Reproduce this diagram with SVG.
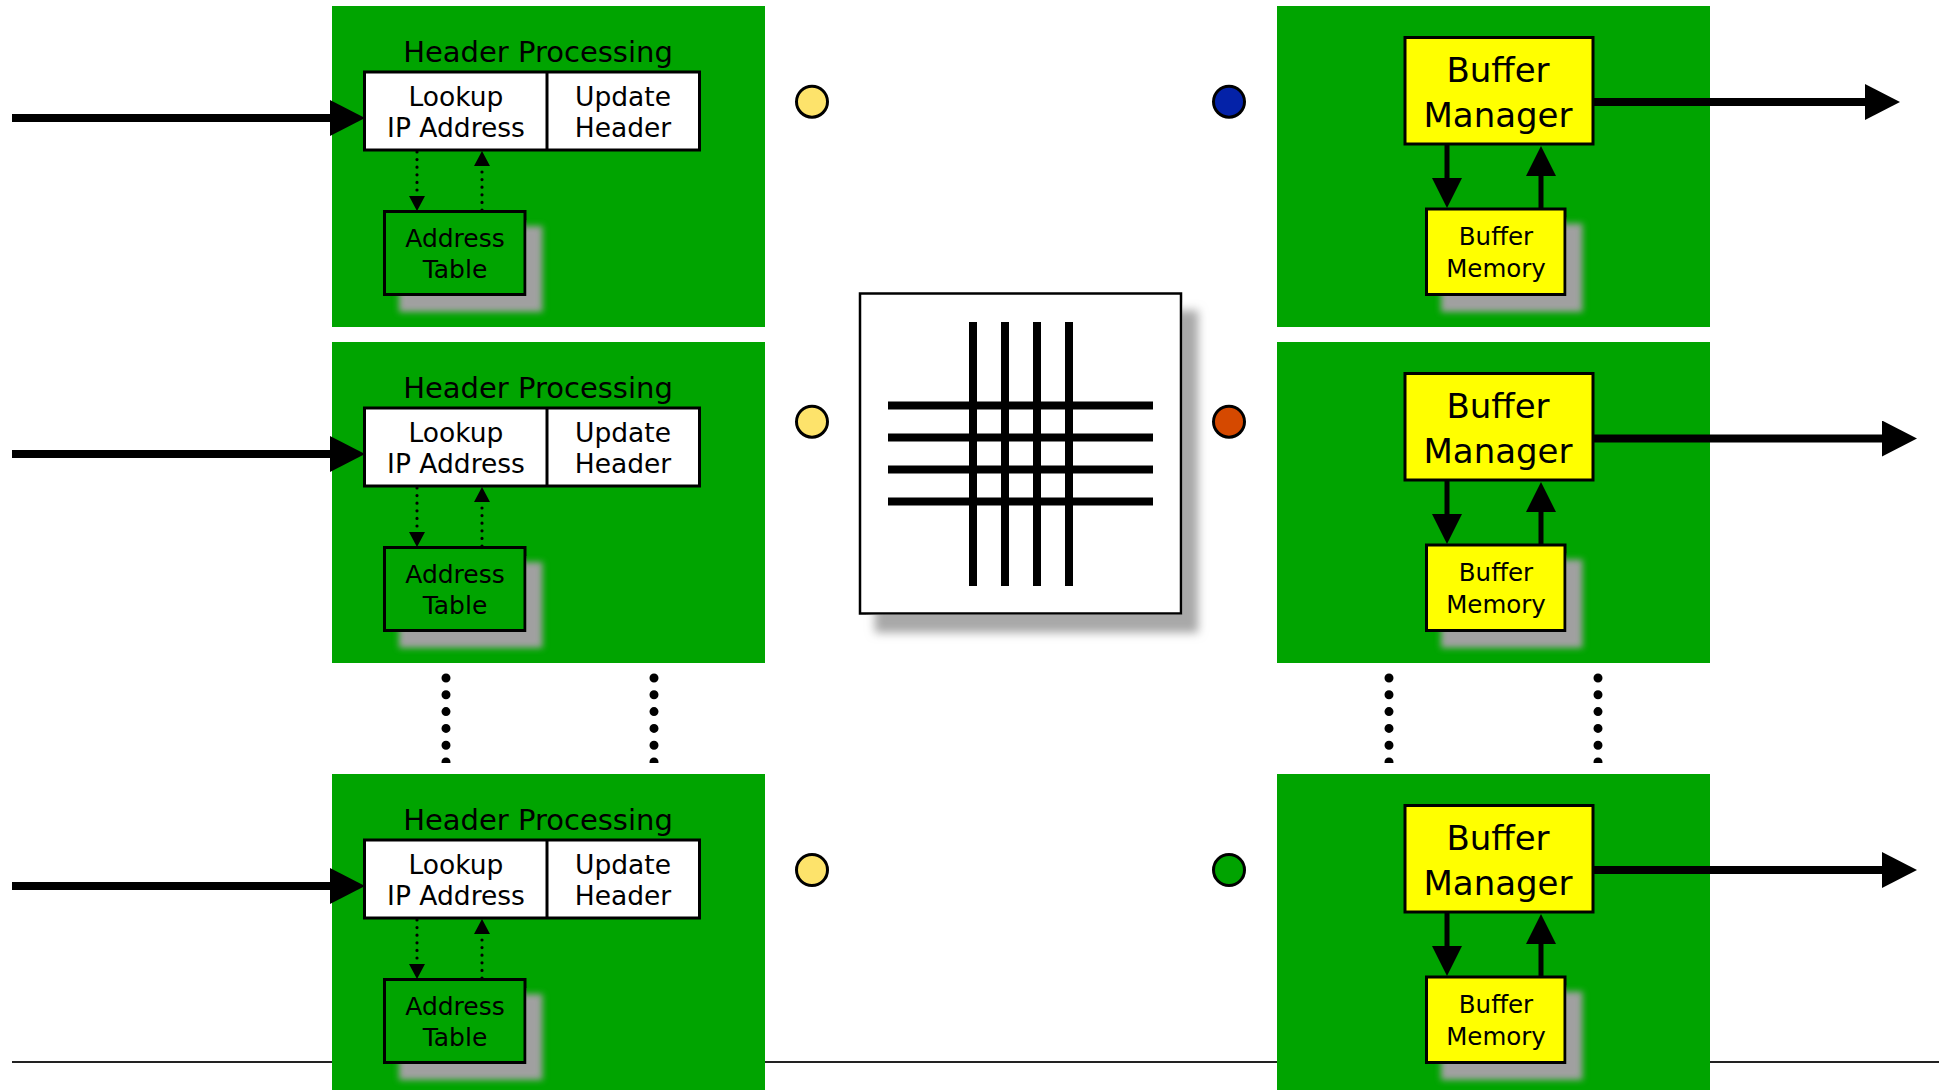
<svg xmlns="http://www.w3.org/2000/svg" width="1939" height="1090" viewBox="0 0 1939 1090">
<style>
  .bg { fill: #00a400; }
  .white { fill: #ffffff; stroke: #000; stroke-width: 3; }
  .gbox { fill: #00a400; stroke: #000; stroke-width: 3; }
  .ybox { fill: #ffff00; stroke: #000; stroke-width: 3; }
  .shadow { filter: url(#ds); }
  .t { font-family: "DejaVu Sans", "Liberation Sans", sans-serif; fill: #000; text-anchor: middle; }
  .hp { font-size: 29px; }
  .lk { font-size: 26.5px; }
  .at { font-size: 25px; }
  .bm { font-size: 34px; }
  .mem { font-size: 24.5px; }
  .big { stroke: #000; stroke-width: 8; fill: none; marker-end: url(#bigHead); }
  .dotted { stroke: #000; stroke-width: 3.2; stroke-dasharray: 0 7.6; stroke-linecap: round; fill: none; marker-end: url(#smallHead); }
  .solid { stroke: #000; stroke-width: 5; fill: none; marker-end: url(#midHead); }
  .ellipsis { stroke: #000; stroke-width: 9; stroke-dasharray: 0 16.8; stroke-linecap: round; fill: none; }
  .bar { stroke: #000; stroke-width: 8; }
  .port { stroke: #000; stroke-width: 3; }
</style>
<defs>
  <filter id="ds" x="-10%" y="-10%" width="140%" height="140%">
    <feDropShadow dx="16" dy="16" stdDeviation="3" flood-color="#a0a0a0" flood-opacity="1"/>
  </filter>
  <filter id="ds2" x="-10%" y="-10%" width="140%" height="140%">
    <feDropShadow dx="16" dy="18" stdDeviation="5" flood-color="#a8a8a8" flood-opacity="1"/>
  </filter>
  <marker id="bigHead" markerUnits="userSpaceOnUse" markerWidth="36" markerHeight="36" refX="15" refY="18" orient="auto">
    <path d="M0,0 L35,18 L0,36 z" fill="#000"/>
  </marker>
  <marker id="midHead" markerUnits="userSpaceOnUse" markerWidth="30" markerHeight="30" refX="15" refY="15" orient="auto">
    <path d="M0,0 L30,15 L0,30 z" fill="#000"/>
  </marker>
  <marker id="smallHead" markerUnits="userSpaceOnUse" markerWidth="16" markerHeight="16" refX="15" refY="8" orient="auto">
    <path d="M0,0 L15,8 L0,16 z" fill="#000"/>
  </marker>
</defs>

<rect width="1939" height="1090" fill="#ffffff"/>
<line id="baseline" x1="12" y1="1062" x2="1939" y2="1062" stroke="#222" stroke-width="2"/>

<!-- Input ports row 1 -->
<g id="input1">
  <rect class="bg" x="332" y="6" width="433" height="321"/>
  <text class="t hp" x="538" y="62">Header Processing</text>
  <g id="lookup1">
    <rect class="white" x="364.5" y="72" width="335" height="78"/>
    <line x1="547" y1="72" x2="547" y2="150" stroke="#000" stroke-width="3"/>
    <text class="t lk" x="456" y="106">Lookup</text>
    <text class="t lk" x="456" y="137">IP Address</text>
    <text class="t lk" x="623" y="106">Update</text>
    <text class="t lk" x="623" y="137">Header</text>
  </g>
  <g id="table1">
    <rect class="gbox shadow" x="384.5" y="211.5" width="140.5" height="83"/>
    <text class="t at" x="455" y="247">Address</text>
    <text class="t at" x="455" y="278">Table</text>
  </g>
</g>

<!-- Input ports row 2 -->
<g id="input2">
  <rect class="bg" x="332" y="342" width="433" height="321"/>
  <text class="t hp" x="538" y="398">Header Processing</text>
  <g id="lookup2">
    <rect class="white" x="364.5" y="408" width="335" height="78"/>
    <line x1="547" y1="408" x2="547" y2="486" stroke="#000" stroke-width="3"/>
    <text class="t lk" x="456" y="442">Lookup</text>
    <text class="t lk" x="456" y="473">IP Address</text>
    <text class="t lk" x="623" y="442">Update</text>
    <text class="t lk" x="623" y="473">Header</text>
  </g>
  <g id="table2">
    <rect class="gbox shadow" x="384.5" y="547.5" width="140.5" height="83"/>
    <text class="t at" x="455" y="583">Address</text>
    <text class="t at" x="455" y="614">Table</text>
  </g>
</g>

<!-- Input ports row 3 -->
<g id="input3">
  <rect class="bg" x="332" y="774" width="433" height="316"/>
  <text class="t hp" x="538" y="830">Header Processing</text>
  <g id="lookup3">
    <rect class="white" x="364.5" y="840" width="335" height="78"/>
    <line x1="547" y1="840" x2="547" y2="918" stroke="#000" stroke-width="3"/>
    <text class="t lk" x="456" y="874">Lookup</text>
    <text class="t lk" x="456" y="905">IP Address</text>
    <text class="t lk" x="623" y="874">Update</text>
    <text class="t lk" x="623" y="905">Header</text>
  </g>
  <g id="table3">
    <rect class="gbox shadow" x="384.5" y="979.5" width="140.5" height="83"/>
    <text class="t at" x="455" y="1015">Address</text>
    <text class="t at" x="455" y="1046">Table</text>
  </g>
</g>

<!-- Output ports -->
<g id="output1">
  <rect class="bg" x="1277" y="6" width="433" height="321"/>
  <g id="bufmgr1">
    <rect class="ybox" x="1405" y="37.5" width="188" height="106.5"/>
    <text class="t bm" x="1498" y="82">Buffer</text>
    <text class="t bm" x="1498" y="127">Manager</text>
  </g>
  <g id="bufmem1">
    <rect class="ybox shadow" x="1426.5" y="209" width="138.5" height="85.5"/>
    <text class="t mem" x="1496" y="245">Buffer</text>
    <text class="t mem" x="1496" y="277">Memory</text>
  </g>
</g>

<g id="output2">
  <rect class="bg" x="1277" y="342" width="433" height="321"/>
  <g id="bufmgr2">
    <rect class="ybox" x="1405" y="373.5" width="188" height="106.5"/>
    <text class="t bm" x="1498" y="418">Buffer</text>
    <text class="t bm" x="1498" y="463">Manager</text>
  </g>
  <g id="bufmem2">
    <rect class="ybox shadow" x="1426.5" y="545" width="138.5" height="85.5"/>
    <text class="t mem" x="1496" y="581">Buffer</text>
    <text class="t mem" x="1496" y="613">Memory</text>
  </g>
</g>

<g id="output3">
  <rect class="bg" x="1277" y="774" width="433" height="316"/>
  <g id="bufmgr3">
    <rect class="ybox" x="1405" y="805.5" width="188" height="106.5"/>
    <text class="t bm" x="1498" y="850">Buffer</text>
    <text class="t bm" x="1498" y="895">Manager</text>
  </g>
  <g id="bufmem3">
    <rect class="ybox shadow" x="1426.5" y="977" width="138.5" height="85.5"/>
    <text class="t mem" x="1496" y="1013">Buffer</text>
    <text class="t mem" x="1496" y="1045">Memory</text>
  </g>
</g>

<!-- Switch fabric -->
<g id="switch">
  <rect x="860" y="293.5" width="321" height="320" fill="#fff" stroke="#000" stroke-width="2.5" filter="url(#ds2)"/>
  <line class="bar" x1="888" y1="405.5" x2="1153" y2="405.5"/>
  <line class="bar" x1="888" y1="437.5" x2="1153" y2="437.5"/>
  <line class="bar" x1="888" y1="469.5" x2="1153" y2="469.5"/>
  <line class="bar" x1="888" y1="501.5" x2="1153" y2="501.5"/>
  <line class="bar" x1="973" y1="322" x2="973" y2="586"/>
  <line class="bar" x1="1005" y1="322" x2="1005" y2="586"/>
  <line class="bar" x1="1037" y1="322" x2="1037" y2="586"/>
  <line class="bar" x1="1069" y1="322" x2="1069" y2="586"/>
</g>

<!-- Port indicators -->
<g id="ports">
  <circle class="port" cx="812" cy="101.7" r="15.5" fill="#fde36b"/>
  <circle class="port" cx="812" cy="421.7" r="15.5" fill="#fde36b"/>
  <circle class="port" cx="812" cy="870" r="15.5" fill="#fde36b"/>
  <circle class="port" cx="1229" cy="101.7" r="15.5" fill="#0422a8"/>
  <circle class="port" cx="1229" cy="421.7" r="15.5" fill="#d54900"/>
  <circle class="port" cx="1229" cy="870" r="15.5" fill="#00a300"/>
</g>

<!-- Connectors -->
<g id="connectors">
  <line class="big" x1="12" y1="118" x2="345" y2="118"/>
  <line class="big" x1="12" y1="454" x2="345" y2="454"/>
  <line class="big" x1="12" y1="886" x2="345" y2="886"/>
  <line class="big" x1="1593" y1="102" x2="1880" y2="102"/>
  <line class="big" x1="1593" y1="438.5" x2="1897" y2="438.5"/>
  <line class="big" x1="1593" y1="870" x2="1897" y2="870"/>

  <line class="dotted" x1="417" y1="152" x2="417" y2="211"/>
  <line class="dotted" x1="482" y1="210" x2="482" y2="151"/>
  <line class="dotted" x1="417" y1="488" x2="417" y2="547"/>
  <line class="dotted" x1="482" y1="546" x2="482" y2="487"/>
  <line class="dotted" x1="417" y1="920" x2="417" y2="979"/>
  <line class="dotted" x1="482" y1="978" x2="482" y2="919"/>

  <line class="solid" x1="1447" y1="145" x2="1447" y2="193"/>
  <line class="solid" x1="1541" y1="209" x2="1541" y2="161"/>
  <line class="solid" x1="1447" y1="481" x2="1447" y2="529"/>
  <line class="solid" x1="1541" y1="545" x2="1541" y2="497"/>
  <line class="solid" x1="1447" y1="913" x2="1447" y2="961"/>
  <line class="solid" x1="1541" y1="977" x2="1541" y2="929"/>

  <line class="ellipsis" x1="446" y1="678" x2="446" y2="762"/>
  <line class="ellipsis" x1="654" y1="678" x2="654" y2="762"/>
  <line class="ellipsis" x1="1389" y1="678" x2="1389" y2="762"/>
  <line class="ellipsis" x1="1598" y1="678" x2="1598" y2="762"/>
</g>
</svg>
